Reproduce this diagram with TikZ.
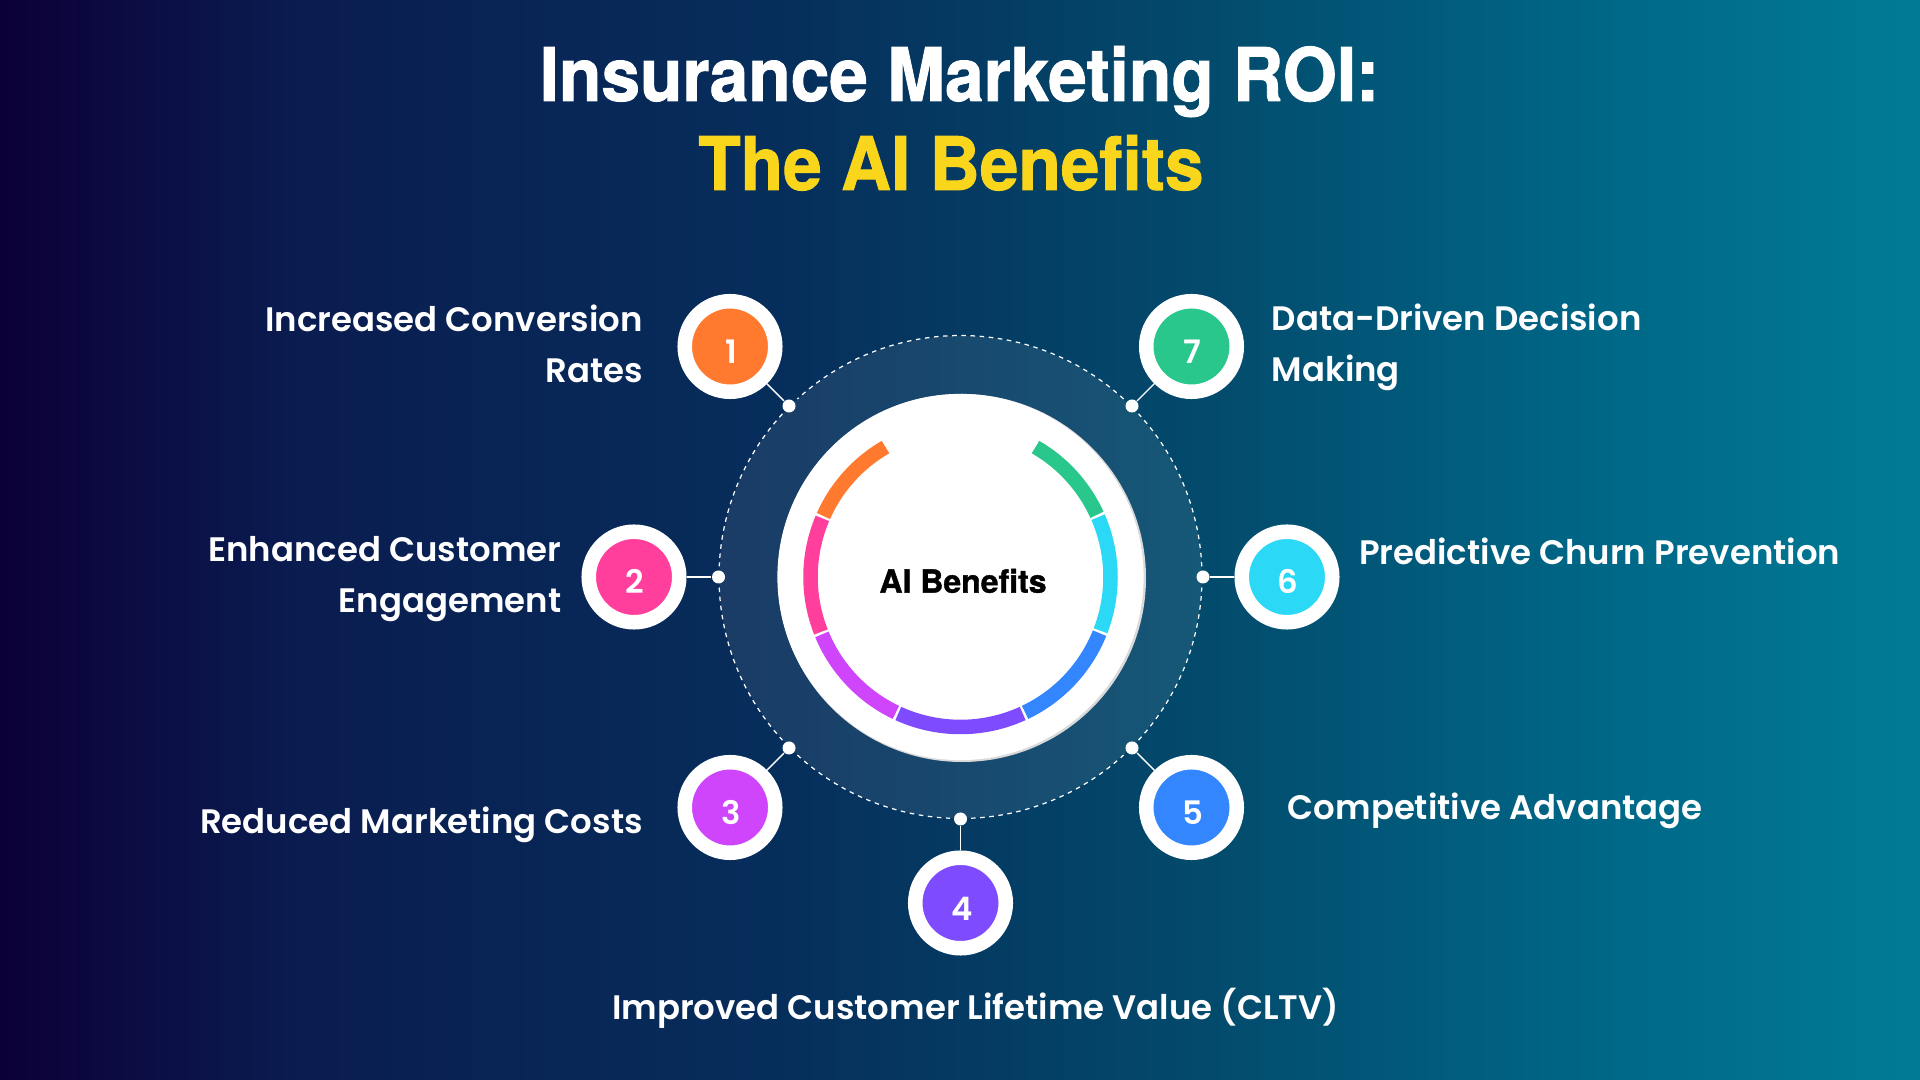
\documentclass[tikz,border=0pt]{standalone}
\usepackage{fontspec}
\setmainfont{Poppins}[BoldFont=Poppins SemiBold]
\newfontfamily\headfont{TeX Gyre Heros}[BoldFeatures={FakeStretch=0.94,FakeBold=1.2}]
\newfontfamily\hubfont{TeX Gyre Heros}[BoldFeatures={FakeBold=1.2}]
\usepackage{tikz}
\usetikzlibrary{positioning}

\definecolor{bgA}{HTML}{0C0038}
\definecolor{bgB}{HTML}{0A1C50}
\definecolor{bgC}{HTML}{062F5C}
\definecolor{bgD}{HTML}{034A6C}
\definecolor{bgE}{HTML}{006787}
\definecolor{bgF}{HTML}{007B96}
\definecolor{titleyellow}{HTML}{F9D61B}
\definecolor{cOne}{HTML}{FF7A2F}
\definecolor{cTwo}{HTML}{FF3F9B}
\definecolor{cThree}{HTML}{CE45FB}
\definecolor{cFour}{HTML}{7F4BFF}
\definecolor{cFive}{HTML}{3486FF}
\definecolor{cSix}{HTML}{2BD9F7}
\definecolor{cSeven}{HTML}{29C78C}

\pgfdeclarehorizontalshading{bgshade}{100bp}{
  color(0bp)=(bgA); color(25bp)=(bgA); color(32.8bp)=(bgB); color(45.8bp)=(bgC);
  color(56.2bp)=(bgD); color(66.7bp)=(bgE); color(75bp)=(bgF); color(100bp)=(bgF)}

\begin{document}
\begin{tikzpicture}[
        x=0.01cm, y=-0.01cm,
        badge/.style={circle, draw=white, line width=0.145cm, minimum size=0.905cm, inner sep=0pt,
            text=white, text height=0.34cm, execute at begin node=\hspace{0.025cm},
            font=\fontsize{9.2pt}{10pt}\selectfont\bfseries},
        dot/.style={circle, fill=white, minimum size=0.13cm, inner sep=0pt},
        benefit/.style={text=white, inner sep=0pt, font=\fontsize{9.65pt}{14.5pt}\selectfont\bfseries},
        link/.style={white, line width=0.4pt},
        ringpart/.style={line width=0.145cm},
        title/.style={inner sep=0pt, anchor=base, font=\fontsize{21pt}{25pt}\selectfont\headfont\bfseries}
        ]
        \useasboundingbox (0,0) rectangle (1920,1080);
        \shade[shading=bgshade] (0,0) rectangle (1920,1080);

        % Title
        \node[title, text=white] (title1) at (959.5,101) {Insurance Marketing ROI:};
        \node[title, text=titleyellow] (title2) at (951,190) {The AI Benefits};

        % Hub
        \fill[white, opacity=0.08] (960.5,577) circle (241);
        \fill[black!15] (962,578) circle (184);
        \node[circle, fill=white, minimum size=3.66cm, inner sep=0pt] (hub) at (960.5,577) {};
        \node[title, font=\fontsize{9.1pt}{11pt}\selectfont\hubfont\bfseries] (hubtext) at (963,592.7) {AI Benefits};
        \foreach \from/\to/\col in {120/156/cOne, 157/201.5/cTwo, 202.5/244.5/cThree, 245.5/294.5/cFour, 295.5/338/cFive, 339/383.5/cSix, 384.5/420/cSeven}
            \draw[ringpart, \col] ({960.5+150*cos(\from)},{577-150*sin(\from)}) arc[start angle=-\from, end angle=-\to, radius=150];

        % Dashed ring between the dots
        \foreach \from/\to in {47.5/132.5, 137.5/177.5, 182.5/222.5, 227.5/267.5, 272.5/312.5, 317.5/357.5, 2.5/42.5}
            \draw[white, line width=0.35pt, dash pattern=on 1.3pt off 1.3pt] ({960.5+241.5*cos(\from)},{577-241.5*sin(\from)}) arc[start angle=-\from, end angle=-\to, radius=241.5];

        % Dots
        \node[dot] (dot1) at (789,406) {};
        \node[dot] (dot2) at (718.5,577) {};
        \node[dot] (dot3) at (789,748) {};
        \node[dot] (dot4) at (960.5,819) {};
        \node[dot] (dot5) at (1132,748) {};
        \node[dot] (dot6) at (1203,577) {};
        \node[dot] (dot7) at (1132,406) {};

        % Badges
        \node[badge, fill=cOne] (badge1) at (730,346.5) {1};
        \node[badge, fill=cTwo] (badge2) at (634,577) {2};
        \node[badge, fill=cThree] (badge3) at (730,807.5) {3};
        \node[badge, fill=cFour] (badge4) at (960.5,903) {4};
        \node[badge, fill=cFive] (badge5) at (1191.5,807.5) {5};
        \node[badge, fill=cSix] (badge6) at (1287,577) {6};
        \node[badge, fill=cSeven] (badge7) at (1191.5,346.5) {7};

        % Labels
        \node[benefit, align=right, left=0.34cm of badge1, yshift=0.025cm] (label1) {Increased Conversion\\Rates};
        \node[benefit, align=right, left=0.195cm of badge2, yshift=-0.025cm] (label2) {Enhanced Customer\\Engagement};
        \node[benefit, left=0.34cm of badge3, yshift=-0.17cm] (label3) {Reduced Marketing Costs};
        \node[benefit, below=0.32cm of badge4, xshift=0.15cm] (label4) {Improved Customer Lifetime Value (CLTV)};
        \node[benefit, right=0.43cm of badge5, yshift=-0.03cm] (label5) {Competitive Advantage};
        \node[benefit, right=0.19cm of badge6, yshift=0.26cm] (label6) {Predictive Churn Prevention};
        \node[benefit, align=left, right=0.27cm of badge7, yshift=-0.012cm] (label7) {Data-Driven Decision\\Making};

        % Links
        \draw[link] (badge1) -- (dot1);
        \draw[link] (badge2) -- (dot2);
        \draw[link] (badge3) -- (dot3);
        \draw[link] (badge4) -- (dot4);
        \draw[link] (badge5) -- (dot5);
        \draw[link] (badge6) -- (dot6);
        \draw[link] (badge7) -- (dot7);
    \end{tikzpicture}
\end{document}
